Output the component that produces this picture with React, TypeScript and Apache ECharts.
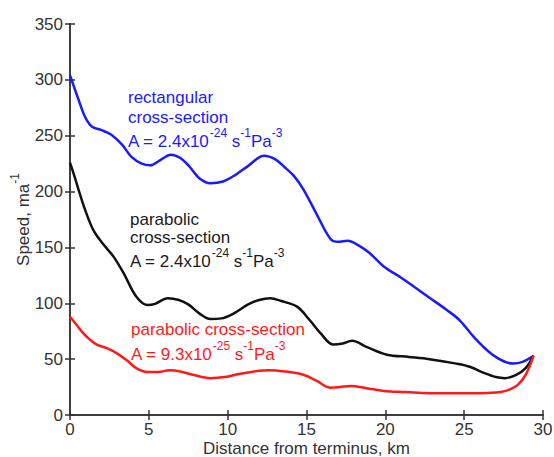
import React, { useEffect, useRef } from "react";
import * as echarts from "echarts";

const blueX = [0, 0.5, 0.95, 1.4, 2.0, 2.6, 3.3, 3.9, 4.55, 5.1, 5.7, 6.4, 7.0, 7.6, 8.2, 8.9, 9.7, 10.5, 11.3, 12.3, 13.0, 13.6, 14.2, 14.8, 15.6, 16.5, 17.0, 17.6, 18.4, 19.0, 19.9, 21.1, 22.0, 22.8, 23.9, 24.7, 25.8, 27.0, 28.1, 28.7, 29.4];
const blueY = [304, 284, 267, 258, 255, 251, 242, 231, 225, 223.5, 228, 233, 230, 222, 212, 207.5, 209, 215, 223, 232, 229, 222, 214, 202, 181, 158, 155, 156, 151, 145, 133, 122, 113, 105, 94, 85, 67, 52, 46, 47.5, 53];

const blackX = [0, 0.3, 0.6, 1.0, 1.5, 2.1, 2.75, 3.4, 4.2, 4.9, 5.4, 6.2, 6.9, 7.5, 8.2, 8.9, 9.6, 10.4, 11.3, 12.0, 12.7, 13.4, 14.4, 15.2, 15.9, 16.7, 17.3, 17.9, 18.8, 20.1, 21.5, 22.8, 24.5, 25.4, 26.2, 27.0, 27.6, 28.3, 28.9, 29.4];
const blackY = [226, 213, 199, 182, 165, 153, 142, 127, 106, 98.5, 99.5, 104.5, 103, 99, 91, 86, 86.5, 91, 99, 103, 104.5, 102, 97, 85, 73, 63, 64, 66.5, 61, 54, 52, 50, 46, 43, 38, 34, 33, 36, 42, 53];

const redX = [0, 0.4, 0.85, 1.3, 1.7, 2.3, 3.0, 3.6, 4.2, 4.9, 5.6, 6.3, 7.0, 7.8, 8.9, 9.8, 10.8, 11.7, 12.6, 13.6, 14.8, 15.6, 16.5, 17.1, 17.8, 18.8, 19.9, 21.3, 22.8, 24.0, 25.4, 26.5, 27.3, 27.9, 28.4, 28.9, 29.4];
const redY = [88, 81, 73, 67, 63, 60, 55, 49, 42, 38.5, 38.5, 40, 39, 36, 33, 34, 37, 39, 40, 39, 36, 31, 24.5, 25, 26, 24, 21.5, 20.5, 19.5, 19.5, 19.5, 19.8, 20.5, 23, 27, 36, 53];

const xTitle = "Distance from terminus, km";
const yTitle = "Speed, ma";
const yTitleSup = "-1";

const FONT = "'Liberation Sans', Arial, Helvetica, sans-serif";
const BLUE = "#1a1aff";
const RED = "#ff1a1a";
const BLACK = "#111111";
const TEXT_BLACK = "#1a1a1a";

const pairs = (xs: number[], ys: number[]) => xs.map((x, i) => [x, ys[i]]);

const rich = (color: string) => ({
  a: { fontSize: 17, lineHeight: 23, verticalAlign: "bottom", fontFamily: FONT, fill: color, color },
  s: { fontSize: 12, lineHeight: 8, verticalAlign: "top", fontFamily: FONT, fill: color, color },
});

const plainText = (x: number, y: number, text: string, color: string) => ({
  type: "text",
  x,
  y,
  silent: true,
  style: { text, fill: color, font: `17px ${FONT}`, verticalAlign: "middle", align: "left" },
});

// y = centre of the main (non-superscript) glyphs
const formulaText = (x: number, y: number, coef: string, exp: string, color: string) => ({
  type: "text",
  x,
  y: y - 3,
  silent: true,
  style: {
    text: `{a|A = ${coef}}{s|${exp}}{a| s}{s|-1}{a|Pa}{s|-3}`,
    rich: rich(color),
    fill: color,
    verticalAlign: "middle",
    align: "left",
  },
});

export default function App() {
  const ref = useRef<HTMLDivElement>(null);
  useEffect(() => {
    document.body.style.margin = "0";
    const chart = echarts.init(ref.current!, null, { renderer: "svg" });
    const axisLine = { show: true, lineStyle: { color: "#333", width: 1.5 } };
    const axisTick = { show: true, inside: true, length: 5, lineStyle: { color: "#333", width: 1.5 } };
    const label = { color: "#333", fontSize: 17, fontFamily: FONT };
    chart.setOption({
      animation: false,
      backgroundColor: "#fff",
      grid: { left: 70, right: 11, top: 24, bottom: 42, containLabel: false, outerBoundsMode: "none" },
      xAxis: [
        {
          type: "value", min: 0, max: 30, interval: 5, position: "bottom",
          axisLine, axisTick, axisLabel: { ...label, margin: 6 }, splitLine: { show: false },
          name: xTitle, nameLocation: "middle", nameGap: 25, nameMoveOverlap: false,
          nameTextStyle: { color: "#333", fontSize: 17, fontFamily: FONT, verticalAlign: "top" },
        },
        {
          type: "value", min: 0, max: 30, interval: 5, position: "top",
          axisLine, axisTick, axisLabel: { show: false }, splitLine: { show: false },
        },
      ],
      yAxis: [
        {
          type: "value", min: 0, max: 350, interval: 50, position: "left",
          axisLine, axisTick, axisLabel: { ...label, margin: 7 }, splitLine: { show: false },
          name: `{a|${yTitle}}{s|${yTitleSup}}`, nameLocation: "middle", nameGap: 38, nameMoveOverlap: false,
          nameTextStyle: {
            color: "#333", fontFamily: FONT,
            rich: {
              a: { fontSize: 17, lineHeight: 23, verticalAlign: "bottom", color: "#333", fontFamily: FONT },
              s: { fontSize: 12, lineHeight: 8, verticalAlign: "top", color: "#333", fontFamily: FONT },
            },
          },
        },
        {
          type: "value", min: 0, max: 350, interval: 50, position: "right",
          axisLine, axisTick, axisLabel: { show: false }, splitLine: { show: false },
        },
      ],
      series: [
        { type: "line", data: pairs(blueX, blueY), smooth: 0.35, showSymbol: false, lineStyle: { color: BLUE, width: 2.5 }, itemStyle: { color: BLUE } },
        { type: "line", data: pairs(blackX, blackY), smooth: 0.35, showSymbol: false, lineStyle: { color: BLACK, width: 2.5 }, itemStyle: { color: BLACK } },
        { type: "line", data: pairs(redX, redY), smooth: 0.35, showSymbol: false, lineStyle: { color: RED, width: 2.5 }, itemStyle: { color: RED } },
      ],
      graphic: [
        plainText(128, 97, "rectangular", BLUE),
        plainText(128, 117, "cross-section", BLUE),
        formulaText(128, 141, "2.4x10", "-24", BLUE),
        plainText(130, 219, "parabolic", TEXT_BLACK),
        plainText(130, 237, "cross-section", TEXT_BLACK),
        formulaText(130, 261, "2.4x10", "-24", TEXT_BLACK),
        plainText(131, 329, "parabolic cross-section", RED),
        formulaText(131, 354, "9.3x10", "-25", RED),
      ],
    });
    return () => chart.dispose();
  }, []);
  return <div ref={ref} style={{ width: 554, height: 457 }} />;
}
